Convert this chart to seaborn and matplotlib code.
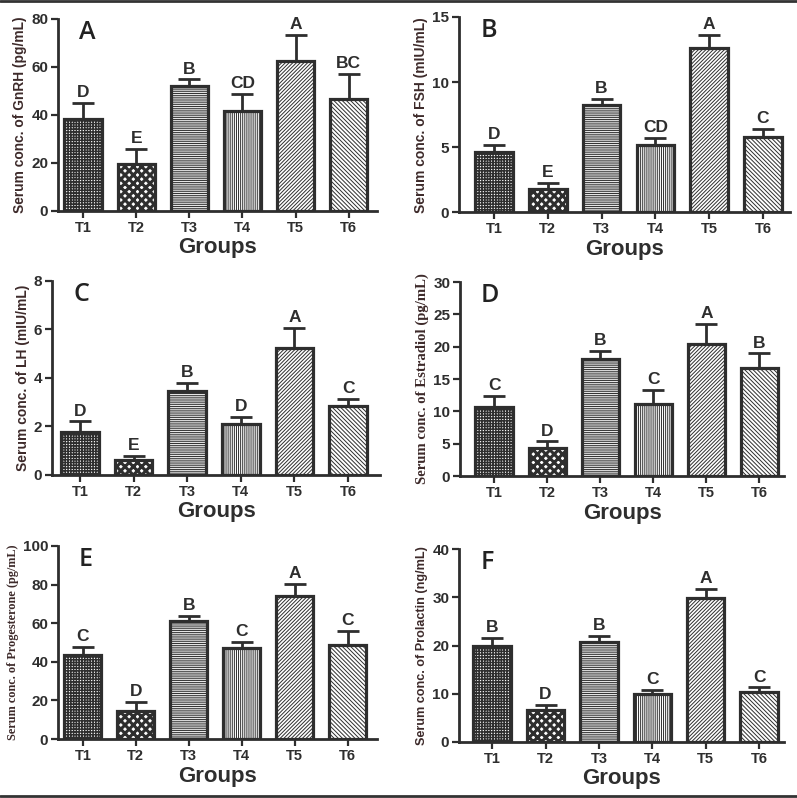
import matplotlib
matplotlib.use("Agg")
import matplotlib.pyplot as plt
from matplotlib.lines import Line2D
import seaborn as sns
import pandas as pd

sns.set_style("ticks")
plt.rcParams['font.family'] = ['Liberation Sans', 'DejaVu Sans']
plt.rcParams['hatch.linewidth'] = 0.7
plt.rcParams['hatch.color'] = '#333333'

groups = ["T1", "T2", "T3", "T4", "T5", "T6"]

gnrh_mean = [38.5, 19.7, 52.0, 41.6, 62.6, 46.6]
gnrh_err = [6.7, 6.2, 2.8, 7.2, 10.7, 10.4]
gnrh_letters = ["D", "E", "B", "CD", "A", "BC"]

fsh_mean = [4.60, 1.82, 8.27, 5.17, 12.62, 5.81]
fsh_err = [0.55, 0.46, 0.41, 0.56, 1.02, 0.56]
fsh_letters = ["D", "E", "B", "CD", "A", "C"]

lh_mean = [1.75, 0.62, 3.46, 2.10, 5.21, 2.83]
lh_err = [0.45, 0.16, 0.32, 0.29, 0.84, 0.30]
lh_letters = ["D", "E", "B", "D", "A", "C"]

e2_mean = [10.63, 4.26, 18.08, 11.20, 20.44, 16.64]
e2_err = [1.75, 1.08, 1.23, 2.05, 3.13, 2.31]
e2_letters = ["C", "D", "B", "C", "A", "B"]

p4_mean = [43.3, 14.5, 61.1, 47.1, 73.9, 48.6]
p4_err = [4.3, 4.7, 2.7, 3.4, 6.5, 7.3]
p4_letters = ["C", "D", "B", "C", "A", "C"]

prl_mean = [19.93, 6.69, 20.69, 10.00, 29.93, 10.28]
prl_err = [1.67, 1.03, 1.38, 0.76, 1.87, 1.03]
prl_letters = ["B", "D", "B", "C", "A", "C"]

panels = [
    ("A", gnrh_mean, gnrh_err, gnrh_letters, "Serum conc. of GnRH (pg/mL)", [0, 20, 40, 60, 80]),
    ("B", fsh_mean, fsh_err, fsh_letters, "Serum conc. of FSH (mIU/mL)", [0, 5, 10, 15]),
    ("C", lh_mean, lh_err, lh_letters, "Serum conc. of LH (mIU/mL)", [0, 2, 4, 6, 8]),
    ("D", e2_mean, e2_err, e2_letters, "Serum conc. of Estradiol (pg/mL)", [0, 5, 10, 15, 20, 25, 30]),
    ("E", p4_mean, p4_err, p4_letters, "Serum conc. of Progesterone (pg/mL)", [0, 20, 40, 60, 80, 100]),
    ("F", prl_mean, prl_err, prl_letters, "Serum conc. of Prolactin (ng/mL)", [0, 10, 20, 30, 40]),
]

# layout (figure fractions) and styling
rects = [
    [0.0728, 0.7356, 0.400, 0.2406],
    [0.5760, 0.7340, 0.415, 0.2447],
    [0.0652, 0.4050, 0.412, 0.2431],
    [0.5772, 0.4035, 0.407, 0.2431],
    [0.0728, 0.0739, 0.400, 0.2419],
    [0.5760, 0.0702, 0.408, 0.2418],
]
xlims = [(-0.47, 5.53), (-0.65, 5.5), (-0.52, 5.6), (-0.64, 5.47), (-0.47, 5.55), (-0.62, 5.47)]
serif_label = [False, False, False, True, True, False]
ylabel_sizes = [9.9, 10.0, 10.0, 10.6, 8.8, 9.1]
hatches = ['+' * 6, 'xxxx', '-' * 9, '|' * 8, '/' * 9, '\\' * 8]
dark = '#2e2e2e'
label_col = '#3d2a2a'

fig = plt.figure(figsize=(7.97, 7.98), dpi=100)

for i, (tag, mean, err, letters, ylabel, yticks) in enumerate(panels):
    ax = fig.add_axes(rects[i])
    df = pd.DataFrame({"Group": groups, "Value": mean})
    sns.barplot(data=df, x="Group", y="Value", ax=ax, color="white",
                edgecolor=dark, linewidth=2.3, width=0.7, errorbar=None,
                saturation=1)
    for k, (p, h) in enumerate(zip(ax.patches, hatches)):
        p.set_hatch(h)
        p.set_facecolor('white')
        if hasattr(p, 'set_hatch_linewidth'):
            if k == 1:
                p.set_hatch_linewidth(2.2)
            elif k == 0:
                p.set_hatch_linewidth(1.1)
    ax.errorbar(range(len(groups)), mean, yerr=[[0] * len(err), err], fmt='none',
                ecolor=dark, elinewidth=2.0, capsize=8, capthick=2.0, zorder=1)
    ymax = yticks[-1]
    for j, (m, e, l) in enumerate(zip(mean, err, letters)):
        ax.text(j, m + e + ymax * 0.015, l, ha='center', va='bottom',
                fontsize=12.5, fontweight='bold', color=dark)
    ax.set_ylim(0, ymax)
    ax.set_xlim(*xlims[i])
    ax.set_yticks(yticks)
    ax.set_yticklabels([str(t) for t in yticks], fontweight='bold', fontsize=11, color=dark)
    ax.set_xticks(range(len(groups)))
    ax.set_xticklabels(groups, fontweight='bold', fontsize=10.5, color=dark)
    ax.tick_params(axis='both', length=5, width=1.6, color=dark, pad=2)
    sns.despine(ax=ax)
    for s in ['left', 'bottom']:
        ax.spines[s].set_linewidth(2.0)
        ax.spines[s].set_color(dark)
    if serif_label[i]:
        ax.set_ylabel(ylabel, fontsize=ylabel_sizes[i], fontweight='bold', color=label_col,
                      family=['Liberation Serif', 'DejaVu Serif'], labelpad=3)
    else:
        ax.set_ylabel(ylabel, fontsize=ylabel_sizes[i], fontweight='bold', color=label_col, labelpad=3)
    ax.set_xlabel("Groups", fontsize=16, fontweight='bold', color=dark, labelpad=2)
    ax.text(0.065, 0.93, tag, transform=ax.transAxes, ha='left', va='center',
            fontsize=18, color='#222222', family=['Open Sans', 'DejaVu Sans'], fontweight='semibold')

fig.add_artist(Line2D([0, 1], [0.9985, 0.9985], color='#333333', lw=2.0))
fig.add_artist(Line2D([0, 1], [0.003, 0.003], color='#333333', lw=2.0))

fig.savefig("out.png", dpi=100, facecolor='white')
